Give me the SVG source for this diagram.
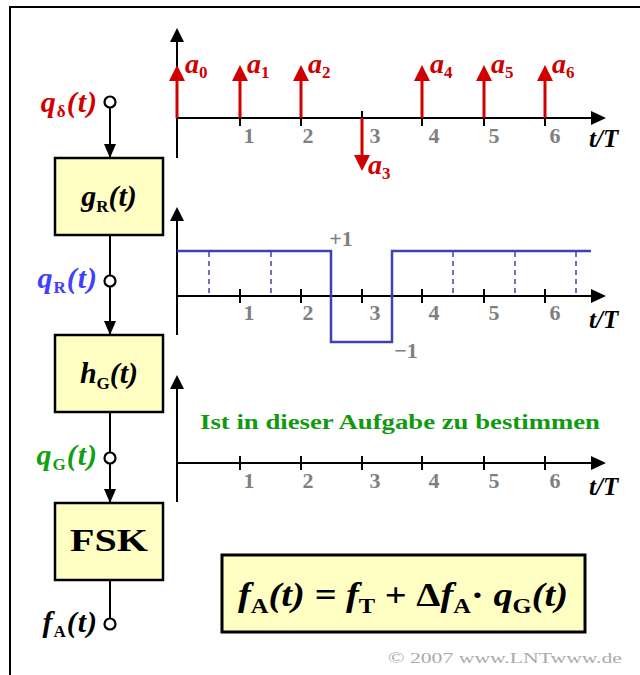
<svg xmlns="http://www.w3.org/2000/svg" width="640" height="675" viewBox="0 0 640 675">
<style>
.ax{stroke:#000;stroke-width:2;fill:none}
.tk{stroke:#000;stroke-width:2}
.tl{font-family:"Liberation Serif",serif;font-weight:bold;font-size:22px;fill:#808080;text-anchor:middle}
.tt{font-family:"Liberation Serif",serif;font-weight:bold;font-style:italic;font-size:25px;fill:#000}
.imp{stroke:#d00000;stroke-width:3}
.ih{fill:#d00000}
.al{font-family:"Liberation Serif",serif;font-weight:bold;font-style:italic;font-size:28px;fill:#d00000}
.sub{font-style:normal;font-size:17px}
.box{fill:#ffffc4;stroke:#000;stroke-width:2.5}
.bt{font-family:"Liberation Serif",serif;font-weight:bold;font-style:italic;font-size:30px;fill:#000;text-anchor:middle}
.lab{font-family:"Liberation Serif",serif;font-weight:bold;font-style:italic;font-size:30px;text-anchor:end;letter-spacing:1px}
.con{stroke:#000;stroke-width:2;fill:none}
.ring{stroke:#000;stroke-width:2.2;fill:#fff}
.sig{stroke:#4040b0;stroke-width:2.5;fill:none}
.dash{stroke:#4040b0;stroke-width:1.5;stroke-dasharray:5,4}
</style>
<defs>
<marker id="ah" viewBox="0 0 10 10" refX="10" refY="5" markerWidth="14" markerHeight="12" markerUnits="userSpaceOnUse" orient="auto" preserveAspectRatio="none">
<path d="M0,0 L10,5 L0,10 Z" fill="#000"/>
</marker>
</defs>
<rect width="640" height="675" fill="#fff"/>
<!-- frame -->
<path d="M10,680 L10,7 L645,7" stroke="#000" stroke-width="2" fill="none"/>

<!-- plot 1 -->
<g id="plot1">
<line class="ax" x1="177" y1="158" x2="177" y2="42"/>
<path d="M170,42 L177,28 L184,42 Z" fill="#000"/>
<line class="ax" x1="177" y1="118" x2="592" y2="118"/>
<path d="M591,111 L606,118 L591,125 Z" fill="#000"/>
<g class="tk">
<line x1="240" y1="111" x2="240" y2="126"/><line x1="301" y1="111" x2="301" y2="126"/><line x1="362" y1="111" x2="362" y2="126"/><line x1="422" y1="111" x2="422" y2="126"/><line x1="484" y1="111" x2="484" y2="126"/><line x1="545" y1="111" x2="545" y2="126"/>
</g>
<text class="tl" x="249" y="143">1</text><text class="tl" x="308" y="143">2</text><text class="tl" x="375" y="143">3</text><text class="tl" x="434" y="143">4</text><text class="tl" x="494" y="143">5</text><text class="tl" x="555" y="143">6</text>
<text class="tt" x="589" y="147">t/T</text>
<g class="imp">
<line x1="177" y1="118" x2="177" y2="78"/><line x1="240" y1="118" x2="240" y2="78"/><line x1="301" y1="118" x2="301" y2="78"/><line x1="422" y1="118" x2="422" y2="78"/><line x1="484" y1="118" x2="484" y2="78"/><line x1="545" y1="118" x2="545" y2="78"/><line x1="362" y1="118" x2="362" y2="158"/>
</g>
<g class="ih">
<path d="M169,81 L177,65 L185,81 Z"/><path d="M232,81 L240,65 L248,81 Z"/><path d="M293,81 L301,65 L309,81 Z"/><path d="M414,81 L422,65 L430,81 Z"/><path d="M476,81 L484,65 L492,81 Z"/><path d="M537,81 L545,65 L553,81 Z"/><path d="M354,155 L362,171 L370,155 Z"/>
</g>
<text class="al" x="185" y="73">a<tspan class="sub" dy="5">0</tspan></text>
<text class="al" x="247" y="73">a<tspan class="sub" dy="5">1</tspan></text>
<text class="al" x="308" y="73">a<tspan class="sub" dy="5">2</tspan></text>
<text class="al" x="430" y="73">a<tspan class="sub" dy="5">4</tspan></text>
<text class="al" x="491" y="73">a<tspan class="sub" dy="5">5</tspan></text>
<text class="al" x="552" y="73">a<tspan class="sub" dy="5">6</tspan></text>
<text class="al" x="368" y="174">a<tspan class="sub" dy="5">3</tspan></text>
</g>

<!-- plot 2 -->
<g id="plot2">
<line class="ax" x1="177" y1="335" x2="177" y2="221"/>
<path d="M170,221 L177,207 L184,221 Z" fill="#000"/>
<line class="ax" x1="177" y1="296" x2="592" y2="296"/>
<path d="M591,289 L606,296 L591,303 Z" fill="#000"/>
<g class="tk">
<line x1="240" y1="289" x2="240" y2="303"/><line x1="301" y1="289" x2="301" y2="303"/><line x1="362" y1="289" x2="362" y2="303"/><line x1="422" y1="289" x2="422" y2="303"/><line x1="484" y1="289" x2="484" y2="303"/><line x1="545" y1="289" x2="545" y2="303"/>
</g>
<text class="tl" x="249" y="320">1</text><text class="tl" x="308" y="320">2</text><text class="tl" x="375" y="320">3</text><text class="tl" x="434" y="320">4</text><text class="tl" x="494" y="320">5</text><text class="tl" x="555" y="320">6</text>
<text class="tt" x="589" y="328">t/T</text>
<g class="dash">
<line x1="209" y1="252" x2="209" y2="296"/><line x1="271" y1="252" x2="271" y2="296"/><line x1="453" y1="252" x2="453" y2="296"/><line x1="515" y1="252" x2="515" y2="296"/><line x1="576" y1="252" x2="576" y2="296"/>
</g>
<path class="sig" d="M177,251 L331,251 L331,342 L392,342 L392,251 L591,251"/>
<text class="tl" x="341" y="246">+1</text>
<text class="tl" x="406" y="358">−1</text>
</g>

<!-- plot 3 -->
<g id="plot3">
<line class="ax" x1="177" y1="502" x2="177" y2="389"/>
<path d="M170,389 L177,375 L184,389 Z" fill="#000"/>
<line class="ax" x1="177" y1="463" x2="592" y2="463"/>
<path d="M591,456 L606,463 L591,470 Z" fill="#000"/>
<g class="tk">
<line x1="240" y1="456" x2="240" y2="470"/><line x1="301" y1="456" x2="301" y2="470"/><line x1="362" y1="456" x2="362" y2="470"/><line x1="422" y1="456" x2="422" y2="470"/><line x1="484" y1="456" x2="484" y2="470"/><line x1="545" y1="456" x2="545" y2="470"/>
</g>
<text class="tl" x="249" y="488">1</text><text class="tl" x="308" y="488">2</text><text class="tl" x="375" y="488">3</text><text class="tl" x="434" y="488">4</text><text class="tl" x="494" y="488">5</text><text class="tl" x="555" y="488">6</text>
<text class="tt" x="589" y="495">t/T</text>
<text x="200" y="429" textLength="400" lengthAdjust="spacingAndGlyphs" font-family="Liberation Serif, serif" font-weight="bold" font-size="21" fill="#109a10">Ist in dieser Aufgabe zu bestimmen</text>
</g>

<!-- connectors -->
<g id="connectors">
<line class="con" x1="110" y1="107" x2="110" y2="158" marker-end="url(#ah)"/>
<line class="con" x1="110" y1="235" x2="110" y2="276"/>
<line class="con" x1="110" y1="286" x2="110" y2="335" marker-end="url(#ah)"/>
<line class="con" x1="110" y1="412" x2="110" y2="453"/>
<line class="con" x1="110" y1="463" x2="110" y2="503" marker-end="url(#ah)"/>
<line class="con" x1="110" y1="580" x2="110" y2="619"/>
</g>

<g id="in_qd">
<circle class="ring" cx="110" cy="102" r="5.5"/>
<text class="lab" x="98" y="112" fill="#d00000">q<tspan class="sub" dy="5">δ</tspan><tspan dy="-5">(t)</tspan></text>
</g>
<g id="gR">
<rect class="box" x="55" y="158" width="108" height="77"/>
<text class="bt" x="109" y="206">g<tspan class="sub" dy="6">R</tspan><tspan dy="-6">(t)</tspan></text>
</g>
<g id="qR">
<circle class="ring" cx="110" cy="281" r="5.5"/>
<text class="lab" x="98" y="288" fill="#4040ff">q<tspan class="sub" dy="5">R</tspan><tspan dy="-5">(t)</tspan></text>
</g>
<g id="hG">
<rect class="box" x="55" y="335" width="108" height="77"/>
<text class="bt" x="109" y="383">h<tspan class="sub" dy="6">G</tspan><tspan dy="-6">(t)</tspan></text>
</g>
<g id="qG">
<circle class="ring" cx="110" cy="458" r="5.5"/>
<text class="lab" x="98" y="465" fill="#10a010">q<tspan class="sub" dy="5">G</tspan><tspan dy="-5">(t)</tspan></text>
</g>
<g id="FSK">
<rect class="box" x="55" y="503" width="108" height="77"/>
<text x="109" y="551" text-anchor="middle" textLength="78" lengthAdjust="spacingAndGlyphs" font-family="Liberation Serif, serif" font-weight="bold" font-size="32" fill="#000">FSK</text>
</g>
<g id="fA">
<circle class="ring" cx="110" cy="624" r="5.5"/>
<text class="lab" x="98" y="632" fill="#000">f<tspan class="sub" dy="5">A</tspan><tspan dy="-5">(t)</tspan></text>
</g>

<g id="formula">
<rect x="222" y="555" width="363" height="77" fill="#ffffc4" stroke="#000" stroke-width="3"/>
<text x="403" y="606" text-anchor="middle" textLength="330" lengthAdjust="spacingAndGlyphs" font-family="Liberation Serif, serif" font-weight="bold" font-style="italic" font-size="33" fill="#000">f<tspan font-style="normal" font-size="21" dy="7">A</tspan><tspan dy="-7">(t) = f</tspan><tspan font-style="normal" font-size="21" dy="7">T</tspan><tspan dy="-7" font-style="normal"> + Δ</tspan><tspan>f</tspan><tspan font-style="normal" font-size="21" dy="7">A</tspan><tspan dy="-7" font-style="normal">· </tspan><tspan>q</tspan><tspan font-style="normal" font-size="21" dy="7">G</tspan><tspan dy="-7">(t)</tspan></text>
</g>

<text x="388" y="663" textLength="234" lengthAdjust="spacingAndGlyphs" font-family="Liberation Serif, serif" font-size="15" fill="#aaaaaa">© 2007 www.LNTwww.de</text>
</svg>
